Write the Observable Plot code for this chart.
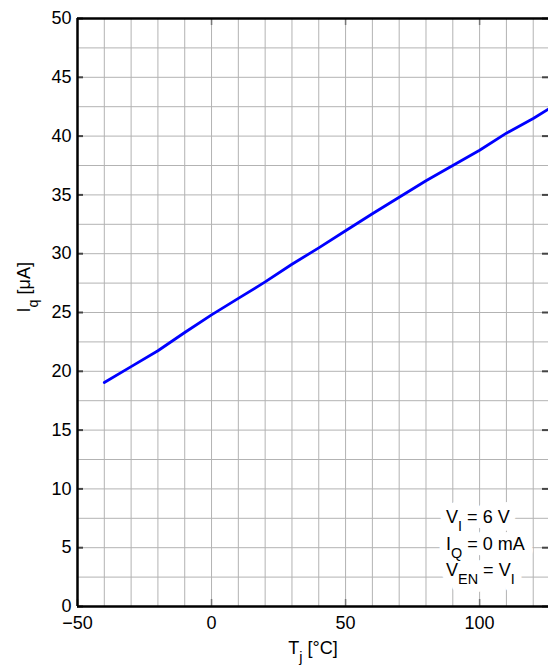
<!DOCTYPE html>
<html><head><meta charset="utf-8">
<script src="https://cdn.jsdelivr.net/npm/d3@7"></script>
<script src="https://cdn.jsdelivr.net/npm/@observablehq/plot@0.6"></script>
<style>body{margin:0;background:#fff}</style>
</head><body><div id="chart"></div>
<script>
// Data
const temperature = [-40, -30, -20, -10, 0, 10, 20, 30, 40, 50, 60, 70, 80, 90, 100, 110, 120, 126];
const current = [19.05, 20.4, 21.75, 23.3, 24.8, 26.2, 27.6, 29.1, 30.5, 31.95, 33.4, 34.8, 36.2, 37.5, 38.8, 40.25, 41.5, 42.35];

const xTickLabels = [-50, 0, 50, 100];
const xTopTicks = [0, 50, 100];
const yTickLabels = [0, 5, 10, 15, 20, 25, 30, 35, 40, 45, 50];
const xGridValues = [-40, -30, -20, -10, 0, 10, 20, 30, 40, 50, 60, 70, 80, 90, 100, 110, 120];
const yGridValues = [2.5, 5, 7.5, 10, 12.5, 15, 17.5, 20, 22.5, 25, 27.5, 30, 32.5, 35, 37.5, 40, 42.5, 45, 47.5];

const noteLabels = ["V_{I} = 6 V", "I_{Q} = 0 mA", "V_{EN} = V_{I}"];
const noteY = [7.06, 4.82, 2.61];
const noteX = 87.5;

const xLabel = "T_{j} [°C]";
const yLabel = "I_{q} [μA]";

const series = temperature.map((t, i) => ({t, iq: current[i]}));
const notes = noteLabels.map((label, i) => ({label, y: noteY[i]}));

const svg = Plot.plot({
  width: 548,
  height: 666,
  marginLeft: 77,
  marginRight: 0,
  marginTop: 18,
  marginBottom: 60,
  style: {fontFamily: "'Liberation Sans', Arial, Helvetica, sans-serif", fontSize: "18px", background: "#fff", color: "#000"},
  x: {domain: [-50, 125.7]},
  y: {domain: [0, 50]},
  marks: [
    Plot.gridX(xGridValues, {stroke: "#b3b3b3", strokeOpacity: 1, strokeWidth: 1}),
    Plot.gridY(yGridValues, {stroke: "#b3b3b3", strokeOpacity: 1, strokeWidth: 1}),
    // white backdrop (halo) behind the annotation, then the annotation text itself
    Plot.text(notes, {x: noteX, y: "y", text: "label", textAnchor: "start", lineAnchor: "bottom",
      fill: "#fff", stroke: "#fff", strokeWidth: 16, strokeLinejoin: "round", fontSize: 18}),
    Plot.text(notes, {x: noteX, y: "y", text: "label", textAnchor: "start", lineAnchor: "bottom",
      fill: "#000", fontSize: 18}),
    Plot.axisX(xTickLabels, {anchor: "bottom", tickSize: 0, tickPadding: 10, label: null}),
    Plot.axisX(xTickLabels, {anchor: "bottom", tickSize: 7, dy: -7, tickFormat: () => "", label: null, stroke: "#777", strokeWidth: 1.5}),
    Plot.axisX(xTopTicks, {anchor: "top", tickSize: 6, dy: 6, tickFormat: () => "", label: null, stroke: "#777", strokeWidth: 1.5}),
    Plot.axisY(yTickLabels, {anchor: "left", tickSize: 0, tickPadding: 6, label: null}),
    Plot.axisY(yTickLabels, {anchor: "left", tickSize: 6, dx: 6, tickFormat: () => "", label: null, stroke: "#444", strokeWidth: 2}),
    Plot.axisY(yTickLabels, {anchor: "right", tickSize: 7, dx: -7, tickFormat: () => "", label: null, stroke: "#444", strokeWidth: 2}),
    Plot.ruleX([-50], {stroke: "#000", strokeWidth: 2.5}),
    Plot.ruleY([0, 50], {stroke: "#000", strokeWidth: 2.5}),
    Plot.line(series, {x: "t", y: "iq", stroke: "#0000ff", strokeWidth: 2.8, clip: true}),
    Plot.text([xLabel], {text: d => d, frameAnchor: "bottom", dy: 47, lineAnchor: "bottom", fontSize: 18}),
    Plot.text([yLabel], {text: d => d, frameAnchor: "left", dx: -48, rotate: -90, lineAnchor: "bottom", fontSize: 18})
  ]
});

function richify(root) {
  root.querySelectorAll("text").forEach(el => {
    const s = el.textContent;
    if (!s.includes("_{")) return;
    while (el.firstChild) el.removeChild(el.firstChild);
    let shifted = 0;
    for (const part of s.split(/(_\{[^}]*\})/)) {
      if (!part) continue;
      const ts = document.createElementNS("http://www.w3.org/2000/svg", "tspan");
      if (part.startsWith("_{")) {
        ts.textContent = part.slice(2, -1);
        ts.setAttribute("font-size", "0.8em");
        if (!shifted) { ts.setAttribute("dy", "8px"); shifted = 8; }
      } else {
        ts.textContent = part;
        if (shifted) { ts.setAttribute("dy", (-shifted) + "px"); shifted = 0; }
      }
      el.appendChild(ts);
    }
  });
}
richify(svg);
document.getElementById("chart").appendChild(svg);
</script>
</body></html>
